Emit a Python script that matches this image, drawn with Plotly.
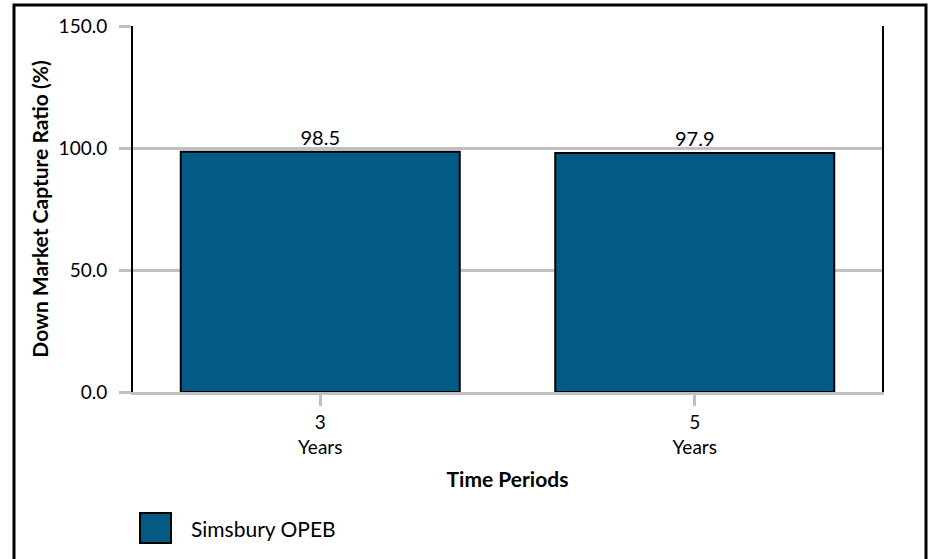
import plotly.graph_objects as go

# data
periods = ["3<br>Years", "5<br>Years"]
capture_ratio = [98.5, 97.9]
series_name = "Simsbury OPEB"
y_ticks = [0, 50, 100, 150]

bar_color = "#035a84"
grid_color = "#c0c0c0"
font_family = "Lato, 'Open Sans', sans-serif"

fig = go.Figure(go.Bar(
    x=periods,
    y=capture_ratio,
    name=series_name,
    marker=dict(color=bar_color, line=dict(color="black", width=2)),
    text=[f"{v:.1f}" for v in capture_ratio],
    textposition="outside",
    textfont=dict(size=20, color="black"),
    cliponaxis=False,
    showlegend=False,
))

# pixel helpers for the plot area (plot spans 133..882 x, 26..392 y)
W, H = 932, 559
L, R, T, B = 133, 50, 26, 167
pw, ph = W - L - R, H - T - B


def px(x):
    return (x - L) / pw


def py(y):
    return (H - B - y) / ph


shapes = [
    # outer frame
    dict(type="rect", xref="paper", yref="paper",
         x0=px(14), x1=px(926), y0=py(580), y1=py(5),
         line=dict(color="black", width=3), fillcolor="rgba(0,0,0,0)"),
    # legend swatch
    dict(type="rect", xref="paper", yref="paper",
         x0=px(140), x1=px(171), y0=py(543), y1=py(513),
         line=dict(color="black", width=2), fillcolor=bar_color),
]

fig.update_layout(
    width=W, height=H,
    margin=dict(l=L, r=R, t=T, b=B),
    paper_bgcolor="white",
    plot_bgcolor="white",
    font=dict(family=font_family, size=19, color="black"),
    bargap=0.255,
    shapes=shapes,
    annotations=[dict(
        text=series_name, xref="paper", yref="paper",
        x=px(189), y=py(528), xanchor="left", yanchor="middle",
        showarrow=False, font=dict(size=21, color="black"),
    )],
    xaxis=dict(
        title=dict(text="<b>Time Periods</b>", font=dict(size=21), standoff=16),
        showgrid=False,
        showline=True, linecolor=grid_color, linewidth=3,
        ticks="outside", ticklen=11, tickwidth=3, tickcolor=grid_color,
        tickfont=dict(size=19),
    ),
    yaxis=dict(
        title=dict(text="<b>Down Market Capture Ratio (%)</b>", font=dict(size=21), standoff=4),
        range=[0, 150],
        tickvals=y_ticks,
        ticktext=[f"{v:.1f}" for v in y_ticks],
        showgrid=True, gridcolor=grid_color, gridwidth=3,
        showline=True, mirror=True, linecolor="black", linewidth=2,
        zeroline=False,
        ticks="outside", ticklen=12, tickwidth=3, tickcolor=grid_color,
        ticklabelstandoff=8,
        tickfont=dict(size=19),
    ),
)

# drop the page's default body margin so the figure sits at the window corner
fig.write_html("out.html", config={"displayModeBar": False},
               post_script="document.body.style.margin='0';")
